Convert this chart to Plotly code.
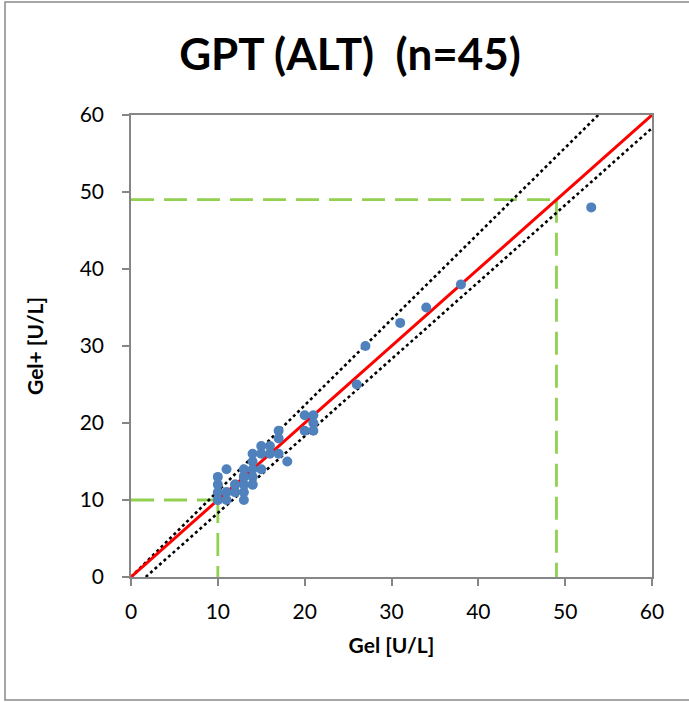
import plotly.graph_objects as go

# Data
gel = [53, 38, 34, 31, 27, 26, 21, 20, 21, 21, 20, 17, 17, 16, 15, 17, 18, 14, 15, 14,
       15, 13, 11, 14, 14, 13, 10, 10, 12, 13, 14, 10, 11, 12, 13, 10, 11, 13, 16, 12,
       14, 13, 12, 11, 10]
gel_plus = [48, 38, 35, 33, 30, 25, 21, 21, 20, 19, 19, 19, 18, 17, 17, 16, 15, 16, 16, 15,
            14, 14, 14, 14, 13, 13, 13, 12, 12, 12, 12, 11, 11, 11, 11, 10, 10, 10, 16, 12,
            12, 13, 11, 11, 10]

identity_x = [0, 60]
identity_y = [0, 60]
upper_x = [0, 60]
upper_slope = 1.115
lower_x = [1.7, 60]
lower_offset = -1.7
limit_hi = 49
limit_lo = 10

title_text = "GPT (ALT)  (n=45)"
x_title = "Gel [U/L]"
y_title = "Gel+ [U/L]"
ticks = [0, 10, 20, 30, 40, 50, 60]

font_family = "Lato, Open Sans, sans-serif"
green = "#92D050"
fig = go.Figure()

# green dashed reference lines
for v in [limit_hi, limit_lo]:
    fig.add_trace(go.Scatter(x=[0, v], y=[v, v], mode="lines",
                             line=dict(color=green, width=2.8, dash="23px,10px"),
                             hoverinfo="skip", showlegend=False))
    fig.add_trace(go.Scatter(x=[v, v], y=[v, 0], mode="lines",
                             line=dict(color=green, width=2.8, dash="23px,10px"),
                             hoverinfo="skip", showlegend=False))

# dotted CI lines
fig.add_trace(go.Scatter(x=upper_x, y=[upper_slope * v for v in upper_x], mode="lines",
                         line=dict(color="black", width=2.6, dash="dot"),
                         showlegend=False))
fig.add_trace(go.Scatter(x=lower_x, y=[v + lower_offset for v in lower_x], mode="lines",
                         line=dict(color="black", width=2.6, dash="dot"),
                         showlegend=False))

# identity line
fig.add_trace(go.Scatter(x=identity_x, y=identity_y, mode="lines",
                         line=dict(color="#FF0000", width=3), showlegend=False))

# points
fig.add_trace(go.Scatter(x=gel, y=gel_plus, mode="markers",
                         marker=dict(color="#4F81BD", size=10, line=dict(width=0)),
                         showlegend=False))

axis_common = dict(range=[0, 60], tickvals=ticks, showgrid=False, zeroline=False,
                   showline=True, linecolor="#868686", linewidth=1.5, mirror=True,
                   ticks="outside", ticklen=7, tickcolor="#868686", tickwidth=1.5,
                   tickfont=dict(family=font_family, size=21, color="black"),
                   fixedrange=True)

fig.update_layout(
    width=689, height=702,
    margin=dict(l=131, r=37, t=115, b=125),
    paper_bgcolor="white", plot_bgcolor="white",
    title=dict(text=title_text, x=0.508, xanchor="center", y=0.922, yanchor="middle",
               font=dict(family=font_family, size=44, color="black", weight="bold")),
    xaxis=dict(**axis_common, ticklabelstandoff=8,
               title=dict(text=x_title, standoff=16,
                          font=dict(family=font_family, size=21, color="black", weight="bold"))),
    yaxis=dict(**axis_common, ticklabelstandoff=14,
               title=dict(text=y_title, standoff=30,
                          font=dict(family=font_family, size=21, color="black", weight="bold"))),
    shapes=[dict(type="rect", xref="paper", yref="paper",
                 x0=(5 - 131) / 521, x1=(720 - 131) / 521,
                 y0=(577 - 700) / 462, y1=(577 - 2) / 462,
                 line=dict(color="#898989", width=1.5), fillcolor="rgba(0,0,0,0)",
                 layer="below")],
)

fig.write_html("out.html")
